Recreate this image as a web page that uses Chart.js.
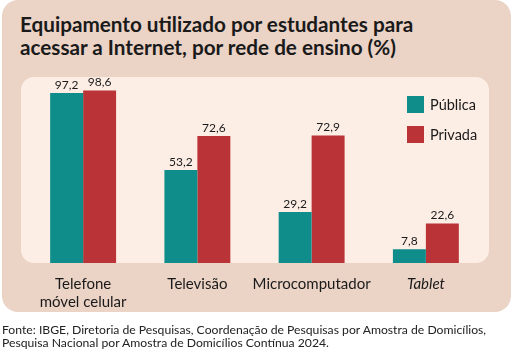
<!DOCTYPE html>
<html><head><meta charset="utf-8">
<script src="https://cdn.jsdelivr.net/npm/chart.js@4/dist/chart.umd.min.js"></script>
<style>
html,body{margin:0;padding:0;background:#fff;}
#wrap{position:relative;width:514px;height:352px;overflow:hidden;font-family:Lato,"Open Sans",sans-serif;}
#outer{position:absolute;left:2px;top:0;width:509px;height:312px;background:#EBD3C6;border-radius:16px;}
#title{position:absolute;left:20px;top:13px;font-weight:700;font-size:20.7px;line-height:23px;color:#1a1a1a;white-space:nowrap;}
#src{position:absolute;left:2px;top:324px;font-size:12.2px;line-height:12.5px;color:#222;white-space:nowrap;}
canvas{position:absolute;left:0;top:0;}
</style></head>
<body><div id="wrap">
<div id="outer"></div>
<div id="title">Equipamento utilizado por estudantes para<br>acessar a Internet, por rede de ensino (%)</div>
<canvas id="c" width="514" height="352"></canvas>
<div id="src">Fonte: IBGE, Diretoria de Pesquisas, Coordenação de Pesquisas por Amostra de Domicílios,<br>Pesquisa Nacional por Amostra de Domicílios Contínua 2024.</div>
</div>
<script>
const categories = [["Telefone","móvel celular"],"Televisão","Microcomputador","Tablet"];
const seriesNames = ["Pública","Privada"];
const publica = [97.2, 53.2, 29.2, 7.8];
const privada = [98.6, 72.6, 72.9, 22.6];
const colors = ["#0E8D8B","#B93337"];

const panelPlugin = {
  id:'panel',
  beforeDraw(chart){
    const {ctx, chartArea:a} = chart;
    ctx.save();
    ctx.fillStyle = '#FCEDE5';
    const x = a.left-5, y = a.top-11, w = a.right-a.left+11, h = a.bottom-y;
    ctx.beginPath();
    ctx.roundRect(x,y,w,h,13);
    ctx.fill();
    ctx.restore();
  }
};
const valuePlugin = {
  id:'values',
  afterDatasetsDraw(chart){
    const ctx = chart.ctx;
    ctx.save();
    ctx.font = '12px Lato, sans-serif';
    ctx.fillStyle = '#1a1a1a';
    ctx.textAlign = 'center';
    ctx.textBaseline = 'bottom';
    chart.data.datasets.forEach((ds,i)=>{
      chart.getDatasetMeta(i).data.forEach((el,j)=>{
        ctx.fillText(ds.data[j].toFixed(1).replace('.',','), el.x, el.y-2);
      });
    });
    ctx.restore();
  }
};
const legendPlugin = {
  id:'legendBox',
  afterDraw(chart){
    const ctx = chart.ctx;
    ctx.save();
    ctx.font = '14.5px Lato, sans-serif';
    ctx.textBaseline = 'middle';
    chart.data.datasets.forEach((ds,i)=>{
      const y = 96 + i*30;
      ctx.fillStyle = ds.backgroundColor;
      ctx.fillRect(407, y, 17, 17);
      ctx.fillStyle = '#1a1a1a';
      ctx.fillText(ds.label, 430, y+9);
    });
    ctx.restore();
  }
};

new Chart(document.getElementById('c'), {
  type:'bar',
  data:{
    labels: categories,
    datasets:[
      {label:seriesNames[0], data:publica, backgroundColor:colors[0]},
      {label:seriesNames[1], data:privada, backgroundColor:colors[1]}
    ]
  },
  options:{
    responsive:false,
    animation:false,
    events:[],
    layout:{padding:{left:26,right:31,top:88,bottom:0}},
    datasets:{bar:{barPercentage:1,categoryPercentage:0.577,borderWidth:0}},
    plugins:{legend:{display:false},tooltip:{enabled:false}},
    scales:{
      y:{display:false,min:0,max:100},
      x:{
        grid:{display:false},
        border:{display:false},
        afterFit(s){ s.height = 89; },
        ticks:{
          padding:4,
          maxRotation:0,
          minRotation:0,
          autoSkip:false,
          color:'#1a1a1a',
          font:(c)=>({family:'Lato, sans-serif',size:15,style:c.index===3?'italic':'normal',lineHeight:1.2})
        }
      }
    }
  },
  plugins:[panelPlugin,valuePlugin,legendPlugin]
});
</script>
</body></html>
